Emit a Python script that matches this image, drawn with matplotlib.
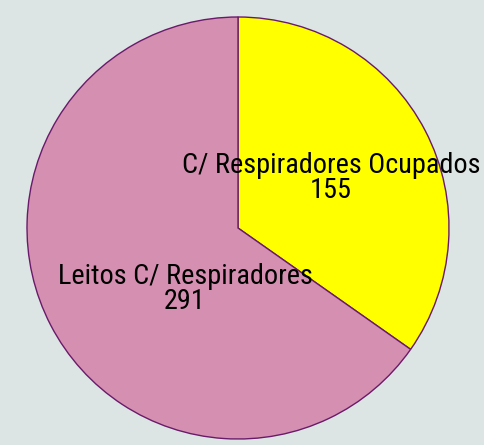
import matplotlib.pyplot as plt

# data
labels = ["C/ Respiradores Ocupados", "Leitos C/ Respiradores"]
values = [155, 291]
colors = ["#ffff00", "#d58fb1"]

W, H = 484, 445
fig = plt.figure(figsize=(W / 100, H / 100), dpi=100)
fig.patch.set_facecolor("#dde5e4")
ax = fig.add_axes([0, 0, 1, 1])
ax.set_facecolor("#dde5e4")

cx, cy, r = 238, H - 228, 211
ax.pie(values, colors=colors, startangle=90, counterclock=False,
       center=(cx, cy), radius=r,
       wedgeprops=dict(edgecolor="#6a1a6a", linewidth=1.0))

ax.set_xlim(0, W)
ax.set_ylim(0, H)
ax.set_aspect("equal")
ax.axis("off")

font = dict(family=["Roboto Condensed", "DejaVu Sans"], fontsize=20.3, color="black",
            ha="center", va="center", linespacing=0.95)
ax.text(331, H - 178, f"{labels[0]}\n{values[0]}", **font)
ax.text(185, H - 289, f"{labels[1]}\n{values[1]}", **font)

fig.savefig("out.png", dpi=100, facecolor=fig.get_facecolor())
